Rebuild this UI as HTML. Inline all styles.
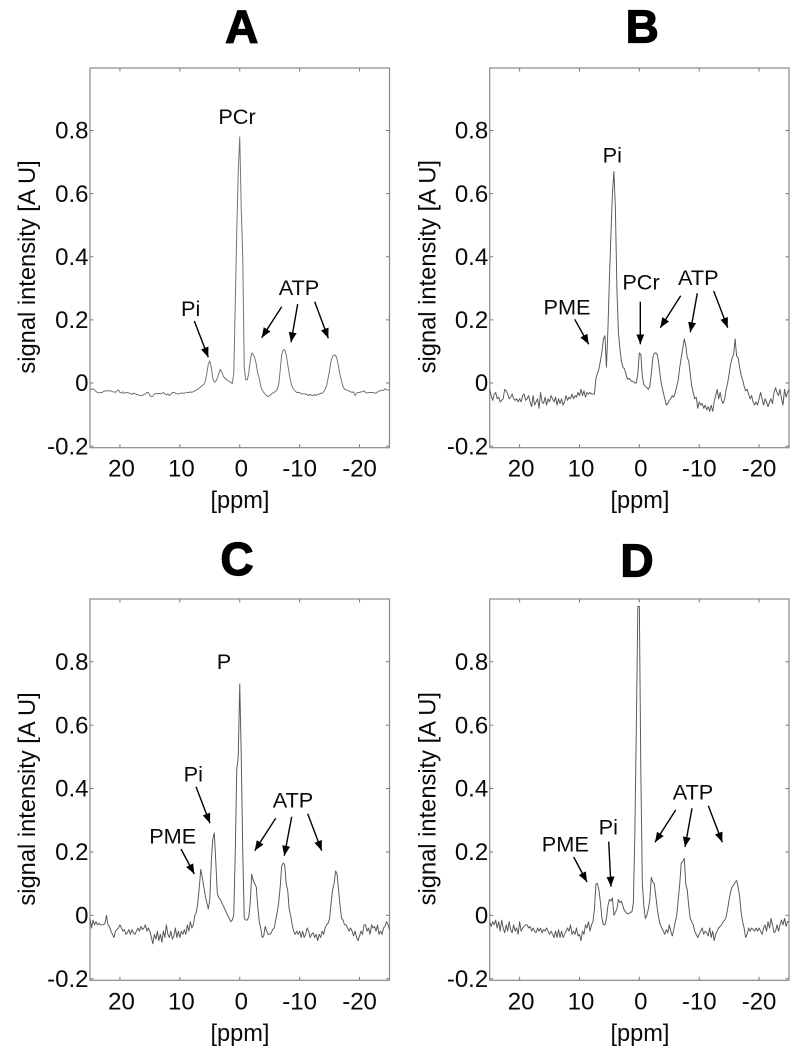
<!DOCTYPE html>
<html lang="en">
<head>
<meta charset="utf-8">
<title>31P MR spectra, panels A to D</title>
<style>
html,body{margin:0;padding:0;background:#fff;width:804px;height:1050px;overflow:hidden}
svg{display:block}
text{font-family:"Liberation Sans",Arial,sans-serif;fill:#0a0a0a}
.ann{font-size:21.7px;text-anchor:middle}
.arr{stroke:#000;stroke-width:1.4;fill:none;marker-end:url(#head)}
.ttl{font-size:46px;font-weight:700;text-anchor:middle;stroke:#000;stroke-width:1.2px;fill:#000}
</style>
</head>
<body>
<svg id="chart" xmlns="http://www.w3.org/2000/svg" width="804" height="1050" viewBox="0 0 804 1050">
<defs><marker id="head" markerUnits="userSpaceOnUse" markerWidth="11" markerHeight="9" refX="10" refY="4" orient="auto"><path d="M0 0 L10 4 L0 8z" fill="#000"/></marker></defs>

<text class="ttl" x="241.7" y="42.7">A</text>
<text class="ttl" x="642.3" y="42.7">B</text>
<text class="ttl" x="237" y="575">C</text>
<text class="ttl" x="637" y="576.7">D</text>

<g>
<text class="ann" x="190.7" y="316">Pi</text>
<text class="ann" x="237" y="124">PCr</text>
<text class="ann" x="299" y="295">ATP</text>
<line class="arr" x1="194.3" y1="321" x2="208.3" y2="357.3"/>
<line class="arr" x1="281.7" y1="306.7" x2="261.7" y2="337.7"/>
<line class="arr" x1="297.7" y1="304" x2="291" y2="342.3"/>
<line class="arr" x1="314.7" y1="301.7" x2="328.3" y2="338.3"/>
</g>
<g>
<text class="ann" x="612.3" y="162.7">Pi</text>
<text class="ann" x="641" y="289.3">PCr</text>
<text class="ann" x="698.3" y="285">ATP</text>
<text class="ann" x="567" y="314.7">PME</text>
<line class="arr" x1="574.7" y1="319.3" x2="588.7" y2="344.3"/>
<line class="arr" x1="640.3" y1="301.7" x2="640.3" y2="344.3"/>
<line class="arr" x1="680.7" y1="295.7" x2="660.3" y2="327.7"/>
<line class="arr" x1="697.3" y1="293.3" x2="690.3" y2="332.3"/>
<line class="arr" x1="713.7" y1="291" x2="727.7" y2="327.7"/>
</g>
<g>
<text class="ann" x="224" y="669">P</text>
<text class="ann" x="193.3" y="781.7">Pi</text>
<text class="ann" x="172.7" y="843.7">PME</text>
<text class="ann" x="293" y="807.7">ATP</text>
<line class="arr" x1="196" y1="786.7" x2="210" y2="823.3"/>
<line class="arr" x1="181" y1="849" x2="194.3" y2="874"/>
<line class="arr" x1="275.7" y1="818.3" x2="254.7" y2="850.7"/>
<line class="arr" x1="291.7" y1="816.7" x2="284.3" y2="855.7"/>
<line class="arr" x1="307.7" y1="813.7" x2="321.7" y2="850.7"/>
</g>
<g>
<text class="ann" x="608.3" y="834.3">Pi</text>
<text class="ann" x="565.3" y="851.7">PME</text>
<text class="ann" x="693" y="799.3">ATP</text>
<line class="arr" x1="573.7" y1="857" x2="587" y2="882"/>
<line class="arr" x1="608.7" y1="841.7" x2="611" y2="886.7"/>
<line class="arr" x1="675.7" y1="810" x2="655" y2="842.3"/>
<line class="arr" x1="692" y1="808.3" x2="685" y2="847"/>
<line class="arr" x1="708.3" y1="805.7" x2="722.3" y2="842.3"/>
</g>
</svg>
<script>
// Chemical-shift axis: the samples run from ppmStart downward in ppmStep increments.
const ppmStart = 25;
const ppmStep = 0.25;
const xTickValues = [20, 10, 0, -10, -20];
const yTickValues = [-0.2, 0, 0.2, 0.4, 0.6, 0.8];
const yTickLabels = ['-0.2', '0', '0.2', '0.4', '0.6', '0.8'];
const xLabelText = '[ppm]';
const yLabelText = 'signal intensity [A U]';

// Each row holds 5 ppm of samples (20 values); the last row is the -25 ppm sample.
const spectrumA = [
-.022,-.02,-.018,-.022,-.027,-.03,-.031,-.03,-.03,-.027,-.025,-.025,-.025,-.025,-.025,-.028,-.028,-.03,-.025,-.022,
-.03,-.032,-.028,-.033,-.03,-.03,-.032,-.033,-.036,-.032,-.034,-.036,-.037,-.039,-.04,-.04,-.036,-.035,-.03,-.03,
-.04,-.043,-.042,-.035,-.033,-.034,-.033,-.034,-.033,-.03,-.034,-.038,-.034,-.04,-.036,-.03,-.03,-.032,-.034,-.035,
-.033,-.032,-.032,-.032,-.031,-.03,-.03,-.028,-.03,-.027,-.025,-.022,-.02,-.016,-.012,-.008,-.005,.005,.03,.06,
.07,.05,.015,.003,.005,.015,.03,.043,.035,.022,.015,.012,.008,.005,.002,-.002,.03,.25,.48,.67,
.78,.55,.4,.05,.01,.01,.03,.07,.095,.09,.08,.06,.03,.015,-.01,-.022,-.03,-.035,-.04,-.043,
-.04,-.035,-.032,-.03,-.025,-.02,-.005,.04,.09,.105,.105,.09,.06,.03,.005,-.012,-.02,-.025,-.03,-.03,
-.03,-.034,-.035,-.034,-.036,-.036,-.04,-.035,-.04,-.04,-.036,-.04,-.035,-.036,-.032,-.033,-.028,-.02,-.008,.015,
.04,.07,.085,.088,.088,.075,.05,.025,.005,-.012,-.02,-.022,-.022,-.026,-.028,-.03,-.028,-.04,-.032,-.03,
-.03,-.028,-.028,-.025,-.03,-.032,-.03,-.03,-.03,-.03,-.032,-.032,-.028,-.025,-.025,-.022,-.024,-.018,-.022,-.022,
-.022];
const spectrumB = [
-.02,-.04,-.055,-.035,-.03,-.05,-.045,-.06,-.055,-.05,-.02,-.025,-.035,-.05,-.045,-.035,-.05,-.055,-.05,-.06,
-.05,-.06,-.04,-.035,-.055,-.05,-.04,-.06,-.075,-.04,-.07,-.06,-.05,-.08,-.03,-.06,-.065,-.045,-.07,-.05,
-.06,-.04,-.05,-.06,-.045,-.07,-.05,-.065,-.05,-.07,-.06,-.04,-.055,-.045,-.05,-.035,-.05,-.04,-.045,-.03,
-.04,-.02,-.04,-.025,-.045,-.03,-.035,-.03,-.035,-.035,-.035,.015,.03,.045,.07,.1,.14,.15,.05,.17,
.33,.47,.6,.67,.55,.3,.16,.11,.07,.05,.045,.03,.012,.015,.01,.005,.005,0,0,.03,
.095,.09,.02,-.005,-.01,-.015,-.02,-.01,.03,.08,.095,.095,.09,.06,.02,-.01,-.03,-.05,-.07,-.065,
-.055,-.05,-.04,-.045,-.03,-.01,.01,.05,.08,.11,.14,.12,.08,.07,.03,-.01,-.03,-.05,-.045,-.08,
-.06,-.07,-.065,-.08,-.07,-.085,-.075,-.09,-.07,-.09,-.06,-.04,-.02,-.05,-.03,-.055,-.065,-.05,-.02,0,
.03,.06,.08,.09,.14,.085,.08,.05,.025,.01,-.01,-.025,-.02,-.035,-.05,-.04,-.06,-.07,-.06,-.07,
-.05,-.03,-.05,-.07,-.05,-.06,-.075,-.06,-.05,-.065,-.03,-.015,-.03,-.04,-.02,-.05,-.07,-.02,-.045,-.03,
-.02];
const spectrumC = [
-.01,-.04,-.015,-.03,-.02,-.03,-.025,-.03,-.03,-.03,-.025,0,-.03,-.035,-.05,-.06,-.07,-.05,-.045,-.04,
-.03,-.04,-.05,-.045,-.06,-.055,-.045,-.06,-.045,-.055,-.06,-.05,-.04,-.05,-.035,-.045,-.04,-.03,-.05,-.04,
-.05,-.07,-.09,-.06,-.075,-.05,-.08,-.06,-.085,-.05,-.07,-.03,-.06,-.07,-.05,-.075,-.065,-.04,-.07,-.05,
-.07,-.05,-.06,-.045,-.06,-.03,-.05,-.02,-.04,-.03,0,.01,.04,.09,.145,.12,.09,.06,.04,.02,
.05,.17,.24,.26,.17,.07,.055,.05,.04,.03,.02,.01,0,-.01,-.02,-.015,0,.2,.46,.5,
.73,.5,.2,-.01,-.015,-.015,-.005,.04,.13,.11,.1,.09,.03,-.02,-.04,-.07,-.065,-.035,-.05,-.06,
-.06,-.055,-.045,-.04,-.015,.01,.04,.09,.155,.165,.16,.1,.08,.02,0,-.03,-.05,-.06,-.05,-.06,
-.05,-.07,-.05,-.07,-.06,-.04,-.05,-.07,-.06,-.055,-.07,-.06,-.08,-.06,-.07,-.05,-.06,-.04,-.03,-.025,
-.01,.04,.08,.1,.14,.13,.08,.03,-.01,-.015,-.03,-.03,-.04,-.05,-.04,-.05,-.065,-.05,-.07,-.08,
-.065,-.05,-.06,-.03,-.03,-.05,-.04,-.06,-.03,-.04,-.035,-.05,-.03,-.06,-.05,-.06,-.04,-.035,-.02,-.03,
-.045];
const spectrumD = [
-.02,-.035,-.02,-.03,-.015,-.04,-.02,-.05,-.015,-.04,-.055,-.03,-.05,-.02,-.045,-.055,-.03,-.05,-.04,-.06,
-.02,-.05,-.04,-.035,-.03,-.03,-.04,-.035,-.05,-.04,-.05,-.055,-.04,-.05,-.04,-.055,-.045,-.05,-.04,-.05,
-.06,-.05,-.06,-.07,-.05,-.07,-.045,-.07,-.05,-.07,-.06,-.05,-.04,-.05,-.03,-.06,-.05,-.06,-.04,-.065,
-.06,-.08,-.05,-.06,-.03,-.04,-.02,-.05,-.03,-.02,.02,.1,.1,.08,.04,-.01,-.03,-.03,-.01,.03,
.05,.045,.055,0,.01,.02,.05,.04,.045,.03,.015,.01,.005,.005,.01,.01,.04,.26,.6,.975,
.975,.45,.1,.03,-.01,0,.02,.05,.12,.105,.1,.06,.02,-.01,-.03,-.04,-.05,-.06,-.045,-.055,
-.03,-.05,-.065,-.045,-.02,0,.05,.1,.165,.17,.18,.1,.08,.03,-.01,-.02,-.03,-.05,-.06,-.07,
-.06,-.05,-.04,-.06,-.05,-.055,-.065,-.04,-.07,-.05,-.08,-.06,-.05,-.04,-.035,-.03,-.02,-.015,-.005,.02,
.05,.075,.09,.095,.105,.11,.09,.06,.01,-.02,-.04,-.07,-.06,-.04,-.05,-.04,-.045,-.05,-.04,-.05,
-.04,-.05,-.06,-.04,-.03,-.05,-.02,-.04,-.01,-.03,-.055,-.05,-.03,-.05,-.03,-.015,-.03,-.01,-.035,-.02,
-.02];

// Axis limits and panel frames.
const xMin = -25, xMax = 25, yMin = -0.205, yMax = 0.998;
const frames = {
  a: {series: spectrumA, left: 90, right: 389.5, top: 68, bottom: 447.7, labelX: 35, labelY: 267, xLabel: 240},
  b: {series: spectrumB, left: 489.7, right: 789, top: 68, bottom: 447.7, labelX: 435.3, labelY: 266.7, xLabel: 640},
  c: {series: spectrumC, left: 90, right: 389.5, top: 599, bottom: 980.3, labelX: 35, labelY: 799, xLabel: 240},
  d: {series: spectrumD, left: 489.7, right: 789, top: 599, bottom: 980.3, labelX: 435.3, labelY: 798.7, xLabel: 640}
};

const SVGNS = 'http://www.w3.org/2000/svg';
const root = document.getElementById('chart');

function xScale(f, ppm) {
  return f.left + (xMax - ppm) / (xMax - xMin) * (f.right - f.left);
}
function yScale(f, v) {
  return f.bottom - (v - yMin) / (yMax - yMin) * (f.bottom - f.top);
}
function make(tag, parent, attrs, text) {
  const el = document.createElementNS(SVGNS, tag);
  for (const k in attrs) el.setAttribute(k, attrs[k]);
  if (text !== undefined) el.textContent = text;
  parent.appendChild(el);
  return el;
}

Object.keys(frames).forEach(function (key) {
  const f = frames[key];
  const g = make('g', root, {});
  
  

  xTickValues.forEach(function (t) {
    const x = xScale(f, t);
    const tickB = make('line', g, {x1: x, x2: x, y1: f.bottom, y2: f.bottom - 3.5, stroke: '#777', 'stroke-width': 1});
    
    
    const tickT = make('line', g, {x1: x, x2: x, y1: f.top, y2: f.top + 3.5, stroke: '#777', 'stroke-width': 1});
    
    
    const lab = make('text', g, {x: x + (t >= 0 ? 1.5 : 0), y: f.bottom + 29, 'text-anchor': 'middle', 'font-size': '24px'}, String(t));
    
    
  });

  yTickValues.forEach(function (t, i) {
    const y = yScale(f, t);
    const tickL = make('line', g, {x1: f.left, x2: f.left + 3.5, y1: y, y2: y, stroke: '#777', 'stroke-width': 1});
    
    
    const tickR = make('line', g, {x1: f.right, x2: f.right - 3.5, y1: y, y2: y, stroke: '#777', 'stroke-width': 1});
    
    
    const lab = make('text', g, {x: f.left - 1.5, y: y + 8.2, 'text-anchor': 'end', 'font-size': '24px'}, yTickLabels[i]);
    
    
  });

  const box = make('rect', g, {x: f.left, y: f.top, width: f.right - f.left, height: f.bottom - f.top, fill: 'none', stroke: '#888', 'stroke-width': 1.2});
  
  

  const xl = make('text', g, {x: f.xLabel, y: f.bottom + 60.5, 'text-anchor': 'middle', 'font-size': '23.6px'}, xLabelText);
  
  

  const yl = make('text', g, {transform: 'translate(' + f.labelX + ',' + f.labelY + ') rotate(-90)', 'text-anchor': 'middle', 'font-size': '23.7px'}, yLabelText);
  
  

  const d = f.series.map(function (v, i) {
    const ppm = ppmStart - i * ppmStep;
    return (i ? 'L' : 'M') + xScale(f, ppm).toFixed(2) + ' ' + yScale(f, v).toFixed(2);
  }).join('');
  const trace = make('path', g, {d: d, fill: 'none', stroke: key === 'a' ? '#707070' : '#555', 'stroke-width': 0.95, 'stroke-linejoin': 'round'});
  
  
});
</script>
</body>
</html>
